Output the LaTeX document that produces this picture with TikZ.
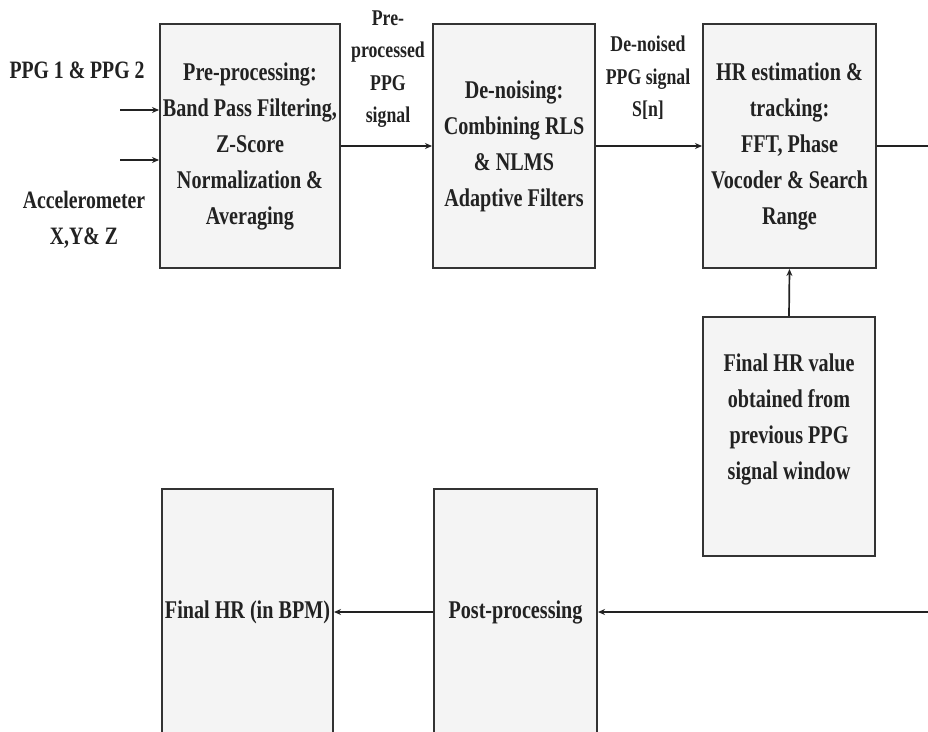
\documentclass[tikz,border=0pt]{standalone}
\usepackage{fontspec}
\setmainfont{Liberation Serif}[FakeStretch=0.79]
\usetikzlibrary{arrows.meta}
\definecolor{boxfill}{HTML}{F4F4F4}
\definecolor{boxline}{HTML}{333333}
\definecolor{ink}{HTML}{222222}
\tikzset{
  blk/.style={draw=boxline, line width=2pt, fill=boxfill, inner sep=0pt, align=center,
    text=ink, font={\fontsize{25.5}{36}\selectfont\bfseries}},
  lbl/.style={inner sep=0pt, align=center, text=ink, font={\fontsize{22.5}{32.5}\selectfont\bfseries}},
  sidelbl/.style={inner sep=0pt, align=center, text=ink, font={\fontsize{25}{36}\selectfont\bfseries}},
  conn/.style={draw=ink, line width=1.7pt, -{Stealth[length=7pt,width=6pt]}},
  plainconn/.style={draw=ink, line width=1.7pt}
}
\begin{document}
\begin{tikzpicture}[x=1pt,y=-1pt]
\useasboundingbox (0,0) rectangle (928,731);
\clip (0,0) rectangle (928,731);
\fill[white] (0,0) rectangle (928,731);

% blocks
\node[blk, minimum width=180pt, minimum height=244pt] (pre) at (250,146)
  {Pre-processing:\\Band Pass Filtering,\\Z-Score\\Normalization \&\\Averaging};
\node[blk, minimum width=162pt, minimum height=244pt] (den) at (514,146)
  {De-noising:\\Combining RLS\\\& NLMS\\Adaptive Filters};
\node[blk, minimum width=173pt, minimum height=244pt] (hr) at (789.5,146)
  {HR estimation \&\\tracking:\\FFT, Phase\\Vocoder \& Search\\Range};
\node[blk, minimum width=172pt, minimum height=239pt] (prev) at (789,436.5) {};
\node[lbl, font={\fontsize{25.5}{36}\selectfont\bfseries}] (prevtext) at (789,419)
  {Final HR value\\obtained from\\previous PPG\\signal window};
\node[blk, minimum width=171pt, minimum height=246pt] (final) at (247.5,612)
  {Final HR (in BPM)};
\node[blk, minimum width=163pt, minimum height=246pt] (post) at (515.5,612)
  {Post-processing};

% side labels
\node[sidelbl] (ppg) at (77,70) {PPG 1 \& PPG 2};
\node[sidelbl] (acc) at (84,220) {Accelerometer\\X,Y\& Z};
\node[lbl] (lblpre) at (388,69) {Pre-\\processed\\PPG\\signal};
\node[lbl] (lblden) at (648,78) {De-noised\\PPG signal\\S[n]};

% connectors
\coordinate (in1) at (120,110);
\coordinate (in2) at (120,160);
\coordinate (outR) at (930,146);
\coordinate (inR) at (930,612);
\draw[conn] (in1) -- (in1 -| pre.west);
\draw[conn] (in2) -- (in2 -| pre.west);
\draw[conn] (pre.east) -- (den.west);
\draw[conn] (den.east) -- (hr.west);
\draw[plainconn] (hr.east) -- (outR);
\draw[conn] (prev.north) -- (hr.south);
\draw[conn] (inR) -- (post.east);
\draw[conn] (post.west) -- (final.east);
\end{tikzpicture}
\end{document}
